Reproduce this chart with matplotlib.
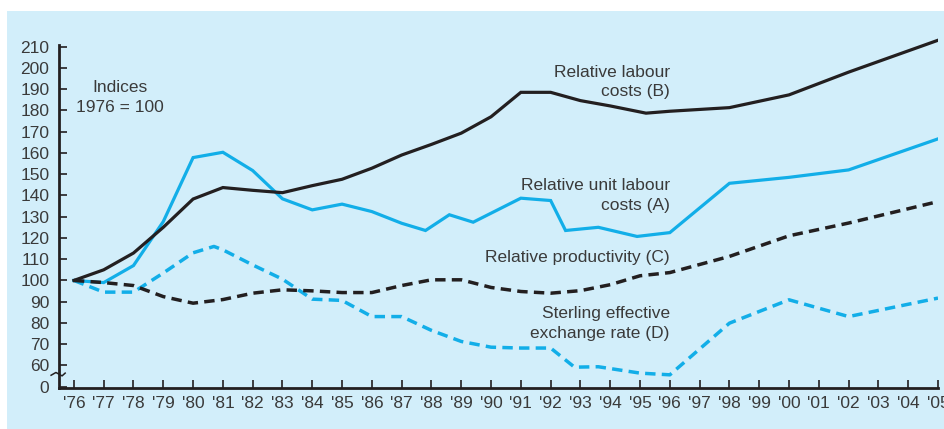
import matplotlib
matplotlib.use("Agg")
import matplotlib.pyplot as plt
from matplotlib.patches import Rectangle
import matplotlib.transforms as mtransforms

# ---- data ----
years_b = [1976, 1977, 1978, 1979, 1980, 1981, 1982, 1983, 1984, 1985, 1986, 1987,
           1988, 1989, 1990, 1991, 1992, 1993, 1994, 1995.2, 1996, 1998, 2000, 2002, 2005]
labour_costs_b = [100, 105, 112.9, 125, 138.3, 143.7, 142.4, 141.3, 144.6, 147.6, 152.8, 159,
                  164, 169.3, 177, 188.5, 188.5, 184.6, 182.1, 178.7, 179.6, 181.3, 187.3, 198, 213]

years_a = [1976, 1977, 1978, 1979, 1980, 1981, 1982, 1983, 1984, 1985, 1986, 1987,
           1987.8, 1988.6, 1989.4, 1991, 1992, 1992.5, 1993.6, 1994.9, 1996, 1998, 2000, 2002, 2005]
unit_labour_a = [100, 99, 107, 127.7, 157.8, 160.3, 151.7, 138.4, 133.2, 135.9, 132.4, 126.9,
                 123.5, 130.9, 127.4, 138.7, 137.6, 123.5, 125.0, 120.7, 122.5, 145.7, 148.5, 152, 166.6]

years_c = [1976, 1977, 1978, 1979, 1980, 1981, 1982, 1983, 1984, 1985, 1986, 1987,
           1988, 1989, 1990, 1991, 1992, 1993, 1994, 1995, 1996, 1998, 2000, 2002, 2005]
productivity_c = [100, 99, 97.6, 92.4, 89.3, 91.0, 94.0, 95.6, 95.1, 94.3, 94.3, 97.6,
                  100.3, 100.3, 96.7, 94.8, 94.0, 95.2, 98.0, 102.2, 103.7, 111.3, 121.0, 127, 137.1]

years_d = [1976, 1977, 1978, 1979, 1980, 1980.7, 1981, 1982, 1983, 1984, 1985, 1986, 1987,
           1988, 1989, 1990, 1991, 1992, 1992.8, 1993.6, 1995, 1996, 1998, 2000, 2002, 2005]
exchange_d = [100, 94.5, 94.5, 103.5, 113.0, 116, 114.4, 107.3, 100.6, 91.2, 90.6, 83.0, 83.0,
              76.5, 71.3, 68.6, 68.2, 68.2, 59.2, 59.4, 56.4, 55.6, 79.9, 90.9, 83.0, 91.7]

tick_years = list(range(1976, 2006))
tick_labels = ["'%02d" % (y % 100) for y in tick_years]
y_ticks = [50] + list(range(60, 211, 10))
y_tick_labels = ["0"] + [str(v) for v in range(60, 211, 10)]

# ---- style ----
BLUE = "#12aee8"
BLACK = "#231f20"
BG = "#d2eefa"
TXT = "#3a3a3a"
plt.rcParams['font.family'] = ['Liberation Sans', 'DejaVu Sans']

fig = plt.figure(figsize=(9.45, 4.29), dpi=100)
fig.patch.set_facecolor("white")
fig.patches.append(Rectangle((7 / 945, 0), 1, 1 - 11 / 429, transform=fig.transFigure,
                             facecolor=BG, edgecolor="none", zorder=-10))

ax = fig.add_axes([59 / 945, 1 - 388 / 429, (938 - 59) / 945, 352 / 429])
ax.set_facecolor("none")
ax.set_xlim(1975.5, 2005)
ax.set_ylim(49.4, 215)

ax.plot(years_b, labour_costs_b, color=BLACK, lw=2.3, solid_joinstyle="miter", zorder=4)
ax.plot(years_a, unit_labour_a, color=BLUE, lw=2.3, solid_joinstyle="miter", zorder=3)
ax.plot(years_c, productivity_c, color=BLACK, lw=2.5, dashes=(3.0, 1.8), zorder=4)
ax.plot(years_d, exchange_d, color=BLUE, lw=2.5, dashes=(3.0, 1.8), zorder=3)

for s in ["top", "right"]:
    ax.spines[s].set_visible(False)
for s in ["left", "bottom"]:
    ax.spines[s].set_linewidth(2.0)
    ax.spines[s].set_color(BLACK)
ax.spines["left"].set_bounds(49.4, 211)

ax.set_xticks(tick_years)
ax.set_xticklabels(tick_labels)
ax.set_yticks(y_ticks)
ax.set_yticklabels(y_tick_labels)
ax.tick_params(axis="both", direction="in", length=5.5, width=1.2, color=BLACK,
               labelsize=12.5, labelcolor=TXT)
ax.tick_params(axis="x", pad=6)
ax.tick_params(axis="y", pad=7)

# axis break mark
trans = mtransforms.blended_transform_factory(ax.transAxes, ax.transData)
ax.plot([-0.009, -0.0035, 0.0035, 0.007], [55.4, 56.7, 55.1, 56.4], color=BLACK, lw=1.1,
        transform=trans, clip_on=False, zorder=6)

# annotations
fs = 12.5
ax.text(1977.55, 186.0, "Indices\n1976 = 100", ha="center", va="center", fontsize=fs,
        color=TXT, linespacing=1.4)
ax.text(1996.0, 193.4, "Relative labour\ncosts (B)", ha="right", va="center", fontsize=fs,
        color=TXT, linespacing=1.4)
ax.text(1996.0, 140.0, "Relative unit labour\ncosts (A)", ha="right", va="center",
        fontsize=fs, color=TXT, linespacing=1.4)
ax.text(1996.0, 110.6, "Relative productivity (C)", ha="right", va="center", fontsize=fs,
        color=TXT)
ax.text(1996.0, 79.6, "Sterling effective\nexchange rate (D)", ha="right", va="center",
        fontsize=fs, color=TXT, linespacing=1.4)

fig.savefig("out.png", dpi=100)
